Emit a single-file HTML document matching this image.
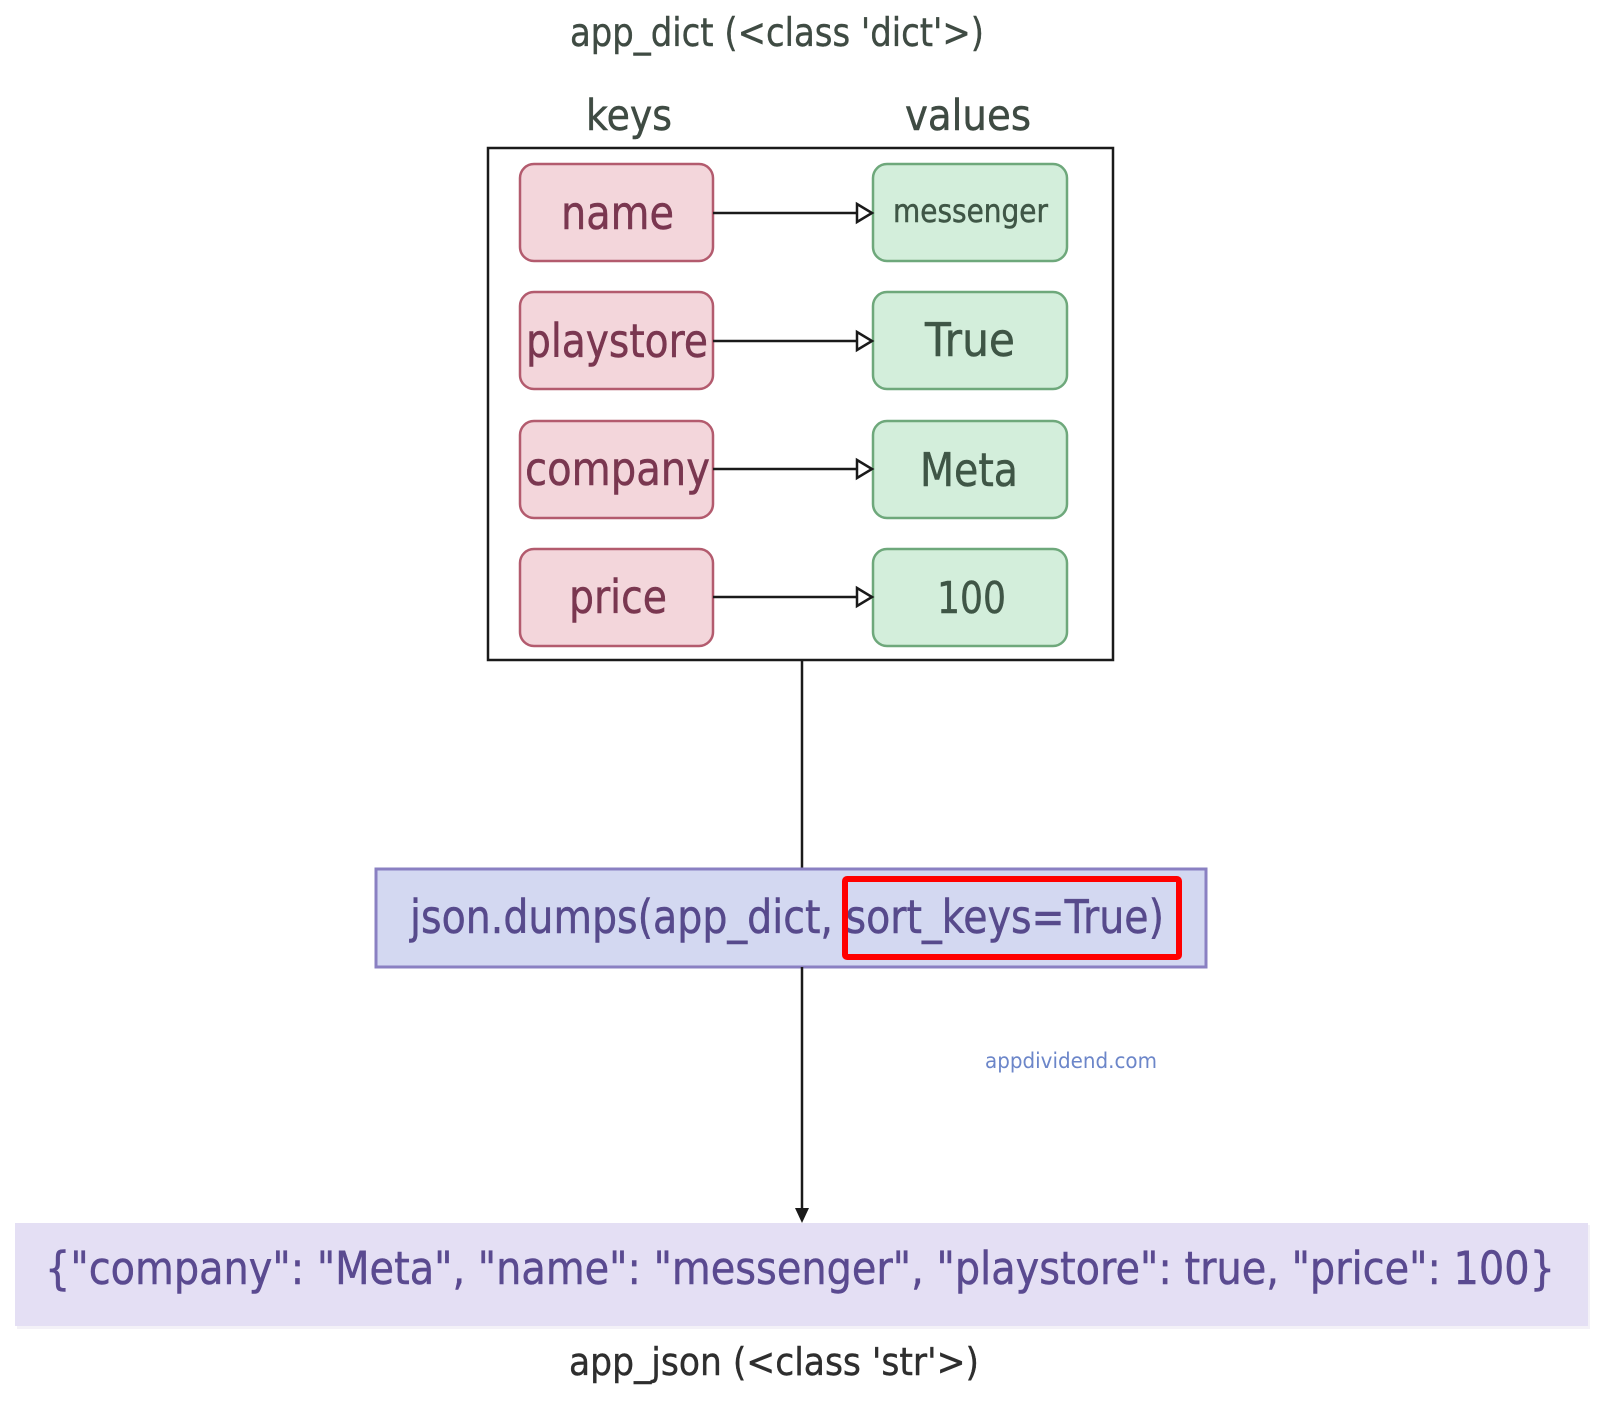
<!DOCTYPE html>
<html>
<head>
<meta charset="utf-8">
<style>
  html, body { margin: 0; padding: 0; background: #ffffff; }
  svg { display: block; }
  text { font-family: "DejaVu Sans", "Liberation Sans", sans-serif; }
</style>
</head>
<body>
<svg width="1600" height="1404" viewBox="0 0 1600 1404" xmlns="http://www.w3.org/2000/svg">
  <rect x="0" y="0" width="1600" height="1404" fill="#ffffff"/>

  <!-- Title -->
  <text x="570" y="46" font-size="39" fill="#3f4b43" stroke="#3f4b43" stroke-width="0.4" textLength="414" lengthAdjust="spacingAndGlyphs">app_dict (&lt;class 'dict'&gt;)</text>

  <!-- keys / values headers -->
  <text x="586" y="130" font-size="43" fill="#3f4b43" stroke="#3f4b43" stroke-width="0.5" textLength="86" lengthAdjust="spacingAndGlyphs">keys</text>
  <text x="905" y="130" font-size="43" fill="#3f4b43" stroke="#3f4b43" stroke-width="0.5" textLength="126" lengthAdjust="spacingAndGlyphs">values</text>

  <!-- Outer dict box -->
  <rect x="488" y="148" width="625" height="512" fill="#ffffff" stroke="#1a1a1a" stroke-width="2.5"/>

  <!-- Key boxes -->
  <g fill="#f3d6db" stroke="#b35b6e" stroke-width="2.5">
    <rect x="520" y="164" width="193" height="97" rx="14" ry="14"/>
    <rect x="520" y="292" width="193" height="97" rx="14" ry="14"/>
    <rect x="520" y="421" width="193" height="97" rx="14" ry="14"/>
    <rect x="520" y="549" width="193" height="97" rx="14" ry="14"/>
  </g>
  <!-- Value boxes -->
  <g fill="#d3eedb" stroke="#6ea87b" stroke-width="2.5">
    <rect x="873" y="164" width="194" height="97" rx="14" ry="14"/>
    <rect x="873" y="292" width="194" height="97" rx="14" ry="14"/>
    <rect x="873" y="421" width="194" height="97" rx="14" ry="14"/>
    <rect x="873" y="549" width="194" height="97" rx="14" ry="14"/>
  </g>

  <!-- Key texts -->
  <g fill="#7a3750" stroke="#7a3750" stroke-width="0.5" font-size="46">
    <text x="561" y="229" textLength="113" lengthAdjust="spacingAndGlyphs">name</text>
    <text x="526" y="357" textLength="182" lengthAdjust="spacingAndGlyphs">playstore</text>
    <text x="525" y="485" textLength="185" lengthAdjust="spacingAndGlyphs">company</text>
    <text x="569" y="613" textLength="98" lengthAdjust="spacingAndGlyphs">price</text>
  </g>
  <!-- Value texts -->
  <g fill="#3f5646" stroke="#3f5646" stroke-width="0.5">
    <text x="893" y="222" font-size="32" textLength="155" lengthAdjust="spacingAndGlyphs">messenger</text>
    <text x="925" y="356" font-size="46" textLength="90" lengthAdjust="spacingAndGlyphs">True</text>
    <text x="920" y="486" font-size="46" textLength="98" lengthAdjust="spacingAndGlyphs">Meta</text>
    <text x="937" y="613" font-size="44" textLength="69" lengthAdjust="spacingAndGlyphs">100</text>
  </g>

  <!-- Key -> value connectors -->
  <g stroke="#1a1a1a" stroke-width="2.5" fill="none">
    <line x1="713" y1="213" x2="858" y2="213"/>
    <line x1="713" y1="341" x2="858" y2="341"/>
    <line x1="713" y1="469" x2="858" y2="469"/>
    <line x1="713" y1="597" x2="858" y2="597"/>
  </g>
  <g stroke="#1a1a1a" stroke-width="2.5" fill="#ffffff" stroke-linejoin="miter">
    <polygon points="857,204 872,213 857,222"/>
    <polygon points="857,332 872,341 857,350"/>
    <polygon points="857,460 872,469 857,478"/>
    <polygon points="857,588 872,597 857,606"/>
  </g>

  <!-- Vertical connector dict -> json.dumps -->
  <line x1="802" y1="660" x2="802" y2="869" stroke="#1a1a1a" stroke-width="2.5"/>

  <!-- json.dumps box -->
  <rect x="376" y="869" width="830" height="98" fill="#d3d8f1" stroke="#8a80c2" stroke-width="3"/>
  <text x="410" y="933" font-size="46" fill="#574a8c" stroke="#574a8c" stroke-width="0.5" textLength="754" lengthAdjust="spacingAndGlyphs">json.dumps(app_dict, sort_keys=True)</text>
  <!-- Red highlight -->
  <rect x="845" y="879" width="334" height="78" fill="none" stroke="#ff0000" stroke-width="6" rx="2" ry="2"/>

  <!-- Vertical connector json.dumps -> result -->
  <line x1="802" y1="967" x2="802" y2="1210" stroke="#1a1a1a" stroke-width="2.5"/>
  <polygon points="795,1208 809,1208 802,1223" fill="#1a1a1a"/>

  <!-- watermark -->
  <text x="985" y="1068" font-size="21" fill="#6c86c9" textLength="172" lengthAdjust="spacingAndGlyphs">appdividend.com</text>

  <!-- Result band -->
  <rect x="17" y="1225" width="1573" height="104" fill="#ebe8f2" opacity="0.6"/>
  <rect x="15" y="1223" width="1573" height="103" fill="#e4dff4"/>
  <text x="45" y="1284" font-size="45" fill="#5a4a90" stroke="#5a4a90" stroke-width="0.5" textLength="1510" lengthAdjust="spacingAndGlyphs">{"company": "Meta", "name": "messenger", "playstore": true, "price": 100}</text>

  <!-- Bottom label -->
  <text x="569" y="1375" font-size="38" fill="#2e2e2e" stroke="#2e2e2e" stroke-width="0.4" textLength="410" lengthAdjust="spacingAndGlyphs">app_json (&lt;class 'str'&gt;)</text>
</svg>
</body>
</html>
